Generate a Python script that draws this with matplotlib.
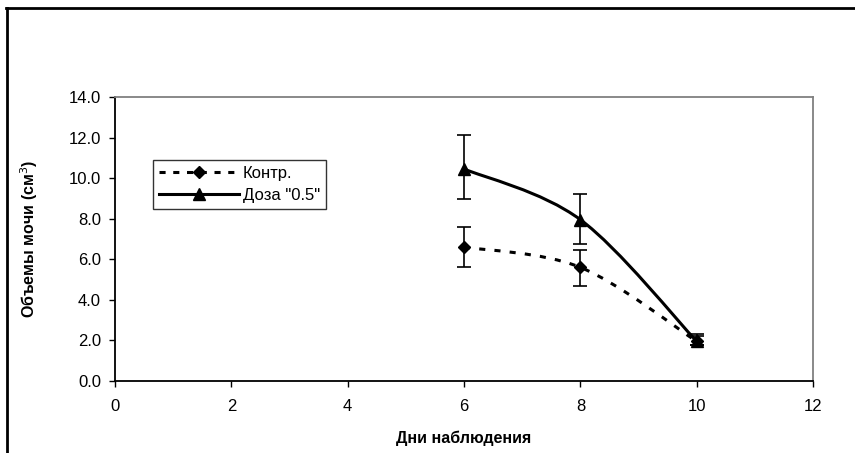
import numpy as np
import matplotlib.pyplot as plt
from matplotlib.path import Path
from matplotlib.patches import PathPatch
from matplotlib.lines import Line2D

plt.rcParams['font.family'] = ['Liberation Sans', 'DejaVu Sans']

days = [6, 8, 10]
control = [6.6, 5.6, 1.95]
control_lo = [5.6, 4.7, 1.75]
control_hi = [7.6, 6.45, 2.2]
dose = [10.45, 7.95, 1.95]
dose_lo = [8.95, 6.75, 1.75]
dose_hi = [12.1, 9.2, 2.3]


def smooth_path(x, y):
    # Excel-style smoothed line: cubic Bezier with Catmull-Rom tangents
    pts = np.column_stack([x, y]).astype(float)
    n = len(pts)
    verts = [pts[0]]
    codes = [Path.MOVETO]
    for i in range(n - 1):
        p0 = pts[i - 1] if i > 0 else pts[i]
        p1 = pts[i]
        p2 = pts[i + 1]
        p3 = pts[i + 2] if i + 2 < n else pts[i + 1]
        c1 = p1 + (p2 - p0) / 6
        c2 = p2 - (p3 - p1) / 6
        verts += [c1, c2, p2]
        codes += [Path.CURVE4] * 3
    return Path(verts, codes)


fig = plt.figure(figsize=(8.55, 4.53), dpi=100)
ax = fig.add_axes([0.1345, 0.159, 0.8165, 0.627])

ax.add_patch(PathPatch(smooth_path(days, control), fill=False, ec='black',
                       lw=2.2, ls=(0, (2, 3)), zorder=2))
ax.add_patch(PathPatch(smooth_path(days, dose), fill=False, ec='black',
                       lw=2.2, zorder=2))

ax.errorbar(days, control,
            yerr=[np.array(control) - control_lo, np.array(control_hi) - control],
            fmt='D', color='black', ms=6.5, ecolor='black', elinewidth=1.2,
            capsize=5, capthick=1.2, zorder=3)
ax.errorbar(days, dose,
            yerr=[np.array(dose) - dose_lo, np.array(dose_hi) - dose],
            fmt='^', color='black', ms=9, ecolor='black', elinewidth=1.2,
            capsize=5, capthick=1.2, zorder=3)

ax.set_xlim(0, 12)
ax.set_ylim(0, 14)
ax.set_xticks(range(0, 13, 2))
ax.set_yticks(np.arange(0, 14.1, 2))
ax.set_yticklabels([f'{v:.1f}' for v in np.arange(0, 14.1, 2)])
ax.tick_params(direction='out', length=4, width=1, labelsize=12, pad=6)
ax.tick_params(axis='x', pad=9)

for s in ['left', 'bottom']:
    ax.spines[s].set_color('black')
    ax.spines[s].set_linewidth(1.3)
for s in ['top', 'right']:
    ax.spines[s].set_color('#808080')
    ax.spines[s].set_linewidth(1.3)

ax.set_xlabel('Дни наблюдения', fontsize=11.5, fontweight='bold', labelpad=12)
ax.set_ylabel('Объемы мочи (см$^3$)', fontsize=11.5, fontweight='bold', labelpad=21)

handles = [
    Line2D([], [], color='black', ls=(0, (2, 2.5)), lw=2.2, marker='D', ms=6.5),
    Line2D([], [], color='black', ls='-', lw=2.2, marker='^', ms=9),
]
leg = ax.legend(handles, ['Контр.', 'Доза "0.5"'], loc='upper left',
                bbox_to_anchor=(0.055, 0.778), fontsize=12, frameon=True,
                fancybox=False, edgecolor='black', handlelength=4.8,
                borderpad=0.35, labelspacing=0.45, handletextpad=0.2,
                borderaxespad=0)
leg.get_frame().set_linewidth(1.0)

# outer chart frame
fig.add_artist(Line2D([0.007, 1.0], [0.982, 0.982], color='black', lw=2,
                      transform=fig.transFigure))
fig.add_artist(Line2D([0.008, 0.008], [0.0, 0.982], color='black', lw=2,
                      transform=fig.transFigure))

fig.savefig('out.png', dpi=100)
